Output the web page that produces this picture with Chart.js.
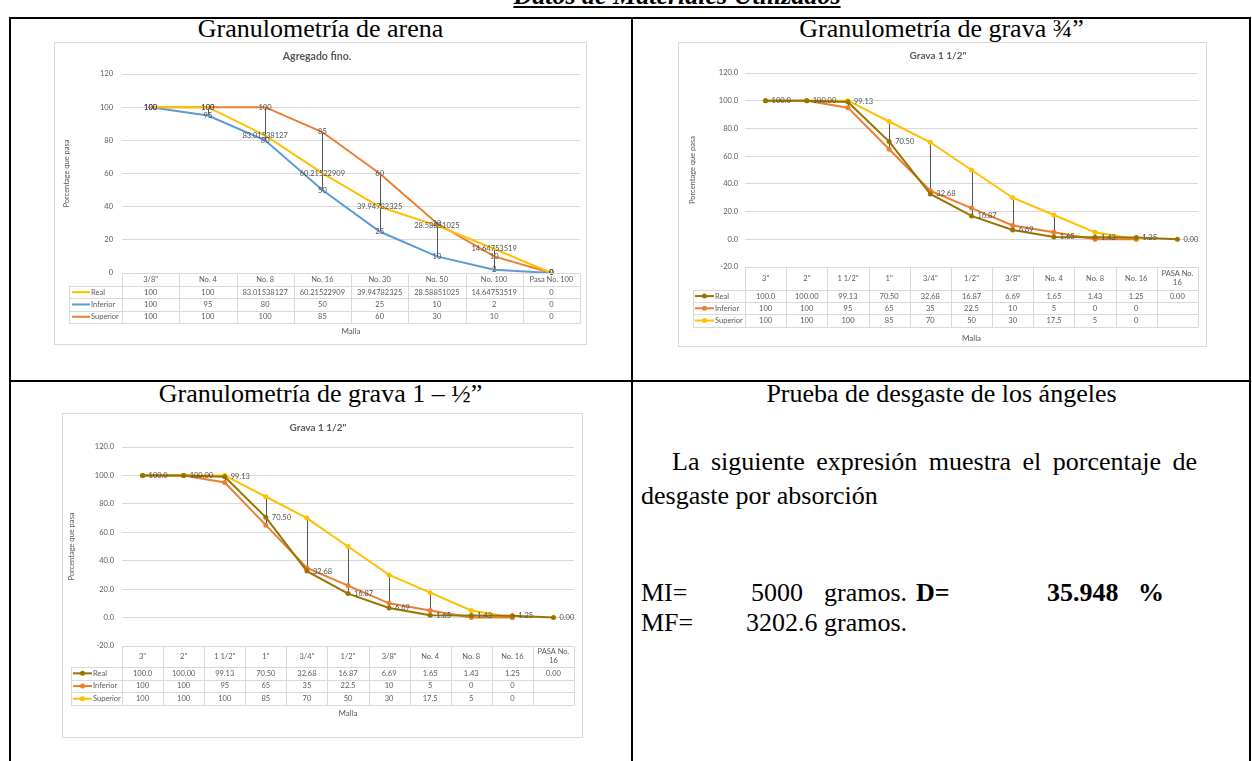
<!DOCTYPE html>
<html lang="es">
<head>
<meta charset="UTF-8">
<title>Datos de Materiales Utilizados</title>
<script src="https://cdn.jsdelivr.net/npm/chart.js"></script>
<style>
    body { margin: 0; background: #fff; width: 1252px; height: 761px; overflow: hidden; position: relative;
           font-family: "Liberation Serif", "Times New Roman", serif; color: #000; }
    .abs { position: absolute; white-space: nowrap; font-size: 26px; line-height: 26px; }
    .just { text-align: justify; text-align-last: justify; white-space: normal; }
    .rule { position: absolute; background: #000; }
    .box { position: absolute; border: 1px solid #d9d9d9; box-sizing: border-box; }
    canvas { position: absolute; }
    b { font-weight: bold; }
</style>
</head>
<body>
    <div class="abs" style="left:0;width:1354px;top:-17px;text-align:center;font-weight:bold;font-style:italic;text-decoration:underline;">Datos de Materiales Utilizados</div>

    <!-- bordes de la tabla -->
    <div class="rule" style="left:9px;top:17px;width:1242px;height:2px;"></div>
    <div class="rule" style="left:9px;top:17px;width:2px;height:744px;"></div>
    <div class="rule" style="left:631px;top:17px;width:2px;height:744px;"></div>
    <div class="rule" style="left:1249px;top:17px;width:2px;height:744px;"></div>
    <div class="rule" style="left:9px;top:380px;width:1242px;height:2px;"></div>

    <div class="abs" style="left:10px;width:621px;top:16px;text-align:center;">Granulometría de arena</div>
    <div class="abs" style="left:633px;width:617px;top:16px;text-align:center;">Granulometría de grava ¾”</div>
    <div class="abs" style="left:10px;width:621px;top:381px;text-align:center;">Granulometría de grava 1 – ½”</div>
    <div class="abs" style="left:633px;width:617px;top:381px;text-align:center;">Prueba de desgaste de los ángeles</div>

    <div class="abs just" style="left:672px;width:525px;top:449px;">La siguiente expresión muestra el porcentaje de</div>
    <div class="abs" style="left:641px;top:483px;">desgaste por absorción</div>
    <div class="abs" style="left:641px;top:580px;">MI=</div>
    <div class="abs" style="left:751px;top:580px;">5000</div>
    <div class="abs" style="left:824px;top:580px;">gramos.</div>
    <div class="abs" style="left:916px;top:580px;"><b>D=</b></div>
    <div class="abs" style="left:1047px;top:580px;"><b>35.948</b></div>
    <div class="abs" style="left:1138px;top:580px;"><b>%</b></div>
    <div class="abs" style="left:641px;top:610px;">MF=</div>
    <div class="abs" style="left:746px;top:610px;">3202.6</div>
    <div class="abs" style="left:824px;top:610px;">gramos.</div>

    <!-- graficos -->
    <div class="box" style="left:54px;top:42px;width:533px;height:303px;"></div>
    <canvas id="sandChart" width="533" height="303" style="left:54px;top:42px;"></canvas>

    <div class="box" style="left:678px;top:42px;width:529px;height:305px;"></div>
    <canvas id="gravelChartA" width="529" height="305" style="left:678px;top:42px;"></canvas>

    <div class="box" style="left:62px;top:413px;width:521px;height:325px;"></div>
    <canvas id="gravelChartB" width="521" height="325" style="left:62px;top:413px;"></canvas>

<script>
// Agregado fino
const sandLabels = ['3/8"', 'No. 4', 'No. 8', 'No. 16', 'No. 30', 'No. 50', 'No. 100', 'Pasa No. 100'];
const sandReal = [100, 100, 83.01538127, 60.21522909, 39.94782325, 28.58851025, 14.64753519, 0];
const sandInferior = [100, 95, 80, 50, 25, 10, 2, 0];
const sandSuperior = [100, 100, 100, 85, 60, 30, 10, 0];
const sandTicks = [0, 20, 40, 60, 80, 100, 120];

// Grava 1 1/2"
const gravelLabels = ['3"', '2"', '1 1/2"', '1"', '3/4"', '1/2"', '3/8"', 'No. 4', 'No. 8', 'No. 16', 'PASA No. 16'];
const gravelReal = [100, 100, 99.13, 70.50, 32.68, 16.87, 6.69, 1.65, 1.43, 1.25, 0];
const gravelRealText = ['100.0', '100.00', '99.13', '70.50', '32.68', '16.87', '6.69', '1.65', '1.43', '1.25', '0.00'];
const gravelInferior = [100, 100, 95, 65, 35, 22.5, 10, 5, 0, 0, null];
const gravelSuperior = [100, 100, 100, 85, 70, 50, 30, 17.5, 5, 0, null];
const gravelTicks = [-20, 0, 20, 40, 60, 80, 100, 120];

const GRAY = '#595959';
Chart.defaults.font.family = 'Lato, "Open Sans", sans-serif';
Chart.defaults.color = GRAY;

function wrapText(ctx, text, maxW) {
    const words = text.split(' ');
    const out = [];
    let cur = '';
    words.forEach(w => {
        const t = cur ? cur + ' ' + w : w;
        if (cur && ctx.measureText(t).width > maxW) { out.push(cur); cur = w; } else { cur = t; }
    });
    out.push(cur);
    return out;
}

function textOf(ds, i) {
    if (ds.valueText) return ds.valueText[i];
    const v = ds.data[i];
    return v === null || v === undefined ? '' : String(v);
}

// lineas verticales entre el maximo y el minimo de cada malla
const highLowPlugin = {
    id: 'highLow',
    beforeDatasetsDraw(chart) {
        const { ctx, scales: { x, y } } = chart;
        ctx.save();
        ctx.strokeStyle = '#555';
        ctx.lineWidth = 1;
        chart.data.labels.forEach((lab, i) => {
            const vals = chart.data.datasets.map(d => d.data[i]).filter(v => v !== null && v !== undefined);
            if (vals.length < 2) return;
            const hi = Math.max(...vals), lo = Math.min(...vals);
            if (hi === lo) return;
            const px = Math.round(x.getPixelForValue(i)) + 0.5;
            ctx.beginPath();
            ctx.moveTo(px, y.getPixelForValue(hi));
            ctx.lineTo(px, y.getPixelForValue(lo));
            ctx.stroke();
        });
        ctx.restore();
    }
};

// etiquetas de datos
const valueLabelPlugin = {
    id: 'valueLabels',
    afterDatasetsDraw(chart) {
        const ctx = chart.ctx;
        ctx.save();
        ctx.font = '7.5px Lato';
        ctx.fillStyle = '#505050';
        ctx.textBaseline = 'middle';
        chart.data.datasets.forEach((ds, di) => {
            if (!ds.showValues) return;
            chart.getDatasetMeta(di).data.forEach((pt, i) => {
                const t = textOf(ds, i);
                if (!t) return;
                if (ds.showValues === 'right') {
                    ctx.textAlign = 'left';
                    ctx.fillText(t, pt.x + 6, pt.y);
                } else {
                    ctx.textAlign = 'center';
                    ctx.fillText(t, pt.x, pt.y);
                }
            });
        });
        ctx.restore();
    }
};

// tabla de datos bajo el grafico
const dataTablePlugin = {
    id: 'dataTable',
    afterDraw(chart, args, o) {
        const { ctx, chartArea: a } = chart;
        const labels = chart.data.labels, sets = chart.data.datasets;
        const n = labels.length, colW = (a.right - a.left) / n;
        const top = a.bottom, hh = o.headerHeight, rh = o.rowHeight;
        const lx = a.left - o.legendWidth;
        const bottom = top + hh + rh * sets.length;
        const r = v => Math.round(v) + 0.5;
        const line = (x1, y1, x2, y2) => { ctx.beginPath(); ctx.moveTo(x1, y1); ctx.lineTo(x2, y2); ctx.stroke(); };
        ctx.save();
        ctx.strokeStyle = '#d9d9d9';
        ctx.lineWidth = 1;
        line(a.left, r(top), a.right, r(top));
        for (let k = 0; k <= sets.length; k++) line(lx, r(top + hh + rh * k), a.right, r(top + hh + rh * k));
        line(r(lx), r(top + hh), r(lx), r(bottom));
        for (let i = 0; i <= n; i++) line(r(a.left + colW * i), r(top), r(a.left + colW * i), r(bottom));

        ctx.font = '7.5px Lato';
        ctx.fillStyle = GRAY;
        ctx.textAlign = 'center';
        ctx.textBaseline = 'middle';
        labels.forEach((lab, i) => {
            const cx = a.left + colW * (i + 0.5);
            const lines = wrapText(ctx, lab, colW - 6);
            lines.forEach((t, j) => ctx.fillText(t, cx, top + hh / 2 + (j - (lines.length - 1) / 2) * 9));
        });
        sets.forEach((ds, k) => {
            const cy = top + hh + rh * (k + 0.5);
            ctx.fillStyle = GRAY;
            ctx.textAlign = 'center';
            labels.forEach((lab, i) => {
                const t = textOf(ds, i);
                if (t) ctx.fillText(t, a.left + colW * (i + 0.5), cy);
            });
            ctx.strokeStyle = ds.borderColor;
            ctx.lineWidth = 2;
            line(lx + o.keyStart, cy, lx + o.keyEnd, cy);
            if (ds.pointRadius > 0) {
                ctx.fillStyle = ds.borderColor;
                ctx.beginPath();
                ctx.arc(lx + (o.keyStart + o.keyEnd) / 2, cy, ds.pointRadius, 0, Math.PI * 2);
                ctx.fill();
            }
            ctx.fillStyle = GRAY;
            ctx.textAlign = 'left';
            ctx.fillText(ds.label, lx + o.keyEnd + 1, cy);
        });
        ctx.textAlign = 'center';
        ctx.font = '8px Lato';
        ctx.fillText('Malla', (a.left + a.right) / 2, top + o.titleOffset);
        ctx.restore();
    }
};

function makeChart(id, s) {
    new Chart(document.getElementById(id), {
        type: 'line',
        data: { labels: s.labels, datasets: s.datasets },
        options: {
            responsive: false,
            animation: false,
            layout: { padding: { top: 0, left: 0, right: s.padRight, bottom: s.padBottom } },
            elements: { line: { borderWidth: 2, tension: 0 } },
            scales: {
                x: { display: false, offset: true },
                y: {
                    min: s.ticks[0],
                    max: s.ticks[s.ticks.length - 1],
                    afterBuildTicks: sc => { sc.ticks = s.ticks.map(v => ({ value: v })); },
                    afterFit: sc => { sc.width = s.axisWidth; },
                    grid: { color: '#d9d9d9', drawTicks: false },
                    border: { display: false },
                    ticks: { padding: s.tickPad, font: { size: 7.5 }, color: GRAY, callback: s.fmt },
                    title: { display: true, text: 'Porcentage que pasa', font: { size: 7.5 }, color: GRAY,
                             padding: { top: s.yTitlePad, bottom: 0 } }
                }
            },
            plugins: {
                legend: { display: false },
                tooltip: { enabled: false },
                title: { display: true, text: s.title, color: GRAY, font: { size: s.titleSize, weight: 'bold' },
                         padding: { top: s.titleTop, bottom: s.titleBottom } },
                dataTable: s.table
            }
        },
        plugins: [highLowPlugin, valueLabelPlugin, dataTablePlugin]
    });
}

function sandSets() {
    return [
        { label: 'Real', data: sandReal, borderColor: '#FFC000', backgroundColor: '#FFC000', pointRadius: 0, showValues: 'center' },
        { label: 'Inferior', data: sandInferior, borderColor: '#5B9BD5', backgroundColor: '#5B9BD5', pointRadius: 0, showValues: 'center' },
        { label: 'Superior', data: sandSuperior, borderColor: '#ED7D31', backgroundColor: '#ED7D31', pointRadius: 0, showValues: 'center' }
    ];
}

function gravelSets() {
    return [
        { label: 'Real', data: gravelReal, valueText: gravelRealText, borderColor: '#977400', backgroundColor: '#977400',
          pointRadius: 2.5, pointBorderWidth: 0, showValues: 'right' },
        { label: 'Inferior', data: gravelInferior, borderColor: '#ED7D31', backgroundColor: '#ED7D31',
          pointRadius: 2.5, pointBorderWidth: 0 },
        { label: 'Superior', data: gravelSuperior, borderColor: '#FFC000', backgroundColor: '#FFC000',
          pointRadius: 2.5, pointBorderWidth: 0 }
    ];
}

makeChart('sandChart', {
    labels: sandLabels, datasets: sandSets(), ticks: sandTicks, fmt: v => String(v),
    title: 'Agregado fino.', titleSize: 10.5, titleTop: 8.7, titleBottom: 10.7,
    padRight: 7, padBottom: 72, axisWidth: 68, tickPad: 9, yTitlePad: 8,
    table: { headerHeight: 13, rowHeight: 12.3, legendWidth: 53, keyStart: 3, keyEnd: 21, titleOffset: 58 }
});

makeChart('gravelChartA', {
    labels: gravelLabels, datasets: gravelSets(), ticks: gravelTicks, fmt: v => v.toFixed(1),
    title: 'Grava 1 1/2"', titleSize: 10, titleTop: 8, titleBottom: 11,
    padRight: 9, padBottom: 80, axisWidth: 67, tickPad: 7, yTitlePad: 10.5,
    table: { headerHeight: 23, rowHeight: 12.2, legendWidth: 52, keyStart: 2, keyEnd: 21, titleOffset: 71 }
});

makeChart('gravelChartB', {
    labels: gravelLabels, datasets: gravelSets(), ticks: gravelTicks, fmt: v => v.toFixed(1),
    title: 'Grava 1 1/2"', titleSize: 10, titleTop: 9, titleBottom: 13,
    padRight: 9, padBottom: 92, axisWidth: 60, tickPad: 8, yTitlePad: 5.5,
    table: { headerHeight: 21, rowHeight: 12.7, legendWidth: 51, keyStart: 2, keyEnd: 21, titleOffset: 67 }
});
</script>
</body>
</html>
